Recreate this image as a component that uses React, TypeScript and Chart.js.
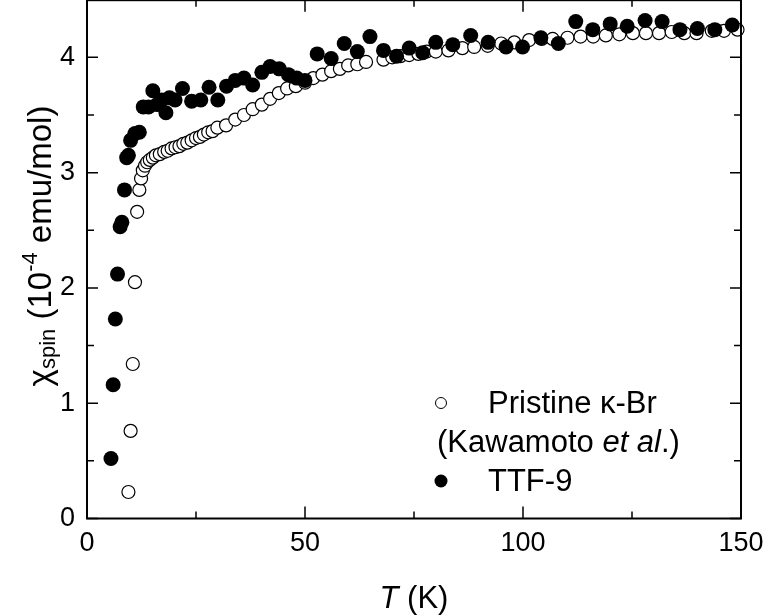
import React, { useEffect, useRef } from "react";
import { Chart, registerables } from "chart.js";

Chart.register(...registerables);

const pristineT = [9.5, 10.0, 10.5, 11.0, 11.5, 12.0, 12.4, 12.8, 13.3, 13.8, 14.4, 15.1, 15.8, 16.7, 17.7, 18.5, 19.4, 20.3, 21.2, 22.1, 23.0, 24.0, 25.0, 25.9, 26.8, 27.8, 28.8, 29.9, 31.9, 34.0, 36.0, 38.0, 40.1, 42.0, 44.0, 45.9, 47.9, 50.0, 51.9, 54.0, 56.0, 58.0, 59.9, 62.0, 64.0, 68.0, 70.0, 71.9, 73.9, 76.0, 77.9, 80.0, 82.9, 86.1, 88.8, 91.9, 95.0, 98.0, 101.4, 104.3, 106.8, 110.2, 113.2, 116.1, 119.0, 122.1, 125.2, 128.2, 131.2, 134.1, 137.0, 139.8, 143.3, 146.1, 149.2];
const pristineChi = [0.23, 0.76, 1.34, 2.05, 2.66, 2.85, 2.95, 3.02, 3.06, 3.09, 3.11, 3.13, 3.15, 3.16, 3.18, 3.19, 3.21, 3.22, 3.23, 3.25, 3.26, 3.28, 3.30, 3.31, 3.33, 3.35, 3.36, 3.39, 3.41, 3.46, 3.50, 3.55, 3.59, 3.64, 3.69, 3.73, 3.75, 3.78, 3.82, 3.85, 3.88, 3.90, 3.93, 3.94, 3.96, 3.98, 4.00, 4.01, 4.02, 4.03, 4.05, 4.05, 4.06, 4.08, 4.09, 4.10, 4.12, 4.13, 4.15, 4.16, 4.16, 4.17, 4.18, 4.18, 4.19, 4.20, 4.21, 4.21, 4.21, 4.22, 4.21, 4.21, 4.23, 4.23, 4.24];

const ttfT = [5.5, 6.0, 6.5, 7.0, 7.6, 8.0, 8.6, 9.1, 9.5, 10.0, 11.0, 12.0, 12.9, 14.1, 15.1, 16.1, 17.1, 18.1, 18.9, 20.2, 21.9, 24.0, 26.1, 28.0, 30.0, 32.0, 34.0, 36.0, 38.0, 40.1, 42.0, 44.1, 46.2, 48.1, 50.0, 52.8, 56.0, 59.0, 62.0, 64.9, 68.0, 71.0, 73.9, 77.0, 80.0, 83.9, 88.0, 92.0, 96.1, 99.9, 104.1, 108.1, 112.1, 116.0, 120.0, 123.9, 128.0, 131.9, 136.0, 140.0, 144.0, 148.0];
const ttfChi = [0.52, 1.16, 1.73, 2.12, 2.53, 2.57, 2.85, 3.13, 3.15, 3.28, 3.34, 3.35, 3.57, 3.57, 3.71, 3.59, 3.63, 3.52, 3.65, 3.63, 3.73, 3.62, 3.63, 3.74, 3.63, 3.75, 3.80, 3.82, 3.76, 3.87, 3.92, 3.90, 3.85, 3.82, 3.80, 4.03, 3.99, 4.12, 4.05, 4.18, 4.06, 4.01, 4.08, 4.04, 4.13, 4.11, 4.19, 4.13, 4.09, 4.09, 4.17, 4.12, 4.31, 4.24, 4.29, 4.27, 4.32, 4.31, 4.24, 4.25, 4.24, 4.28];

const xMajorTicks = [0, 50, 100, 150];
const xMinorTicks = [25, 75, 125];
const yMajorTicks = [0, 1, 2, 3, 4];
const yMinorTicks = [0.5, 1.5, 2.5, 3.5];

const FONT = "'Liberation Sans', Arial, sans-serif";
// canvas is shifted up by OFF px so the plot frame can reach the top edge
const OFF = 8;
const CANVAS_H = 615 + OFF;

const framePlugin = {
  id: "frame",
  afterDatasetsDraw(chart: any) {
    const { ctx, chartArea: a, scales } = chart;
    const xs = scales.x;
    const ys = scales.y;
    ctx.save();
    ctx.strokeStyle = "#000";
    ctx.lineWidth = 2;
    ctx.strokeRect(a.left, a.top + 0.5, a.right - a.left, a.bottom - a.top - 0.5);
    ctx.lineWidth = 1.5;
    const tick = (vals: number[], len: number, isX: boolean) => {
      vals.forEach((v) => {
        ctx.beginPath();
        if (isX) {
          const px = xs.getPixelForValue(v);
          ctx.moveTo(px, a.bottom);
          ctx.lineTo(px, a.bottom - len);
          ctx.moveTo(px, a.top);
          ctx.lineTo(px, a.top + len);
        } else {
          const py = ys.getPixelForValue(v);
          ctx.moveTo(a.left, py);
          ctx.lineTo(a.left + len, py);
          ctx.moveTo(a.right, py);
          ctx.lineTo(a.right - len, py);
        }
        ctx.stroke();
      });
    };
    tick(xMajorTicks, 12, true);
    tick(xMinorTicks, 7, true);
    tick(yMajorTicks, 11, false);
    tick(yMinorTicks, 7, false);
    ctx.restore();
  },
  afterDraw(chart: any) {
    const { ctx, chartArea: a } = chart;
    ctx.save();
    ctx.translate(0, OFF);
    ctx.fillStyle = "#000";
    ctx.textBaseline = "alphabetic";
    // X title
    const xt = `31px ${FONT}`;
    const xtI = `italic 31px ${FONT}`;
    ctx.font = xtI;
    const wT = ctx.measureText("T").width;
    ctx.font = xt;
    const wK = ctx.measureText(" (K)").width;
    const cx = (a.left + a.right) / 2;
    const x0 = cx - (wT + wK) / 2;
    ctx.font = xtI;
    ctx.fillText("T", x0, 608);
    ctx.font = xt;
    ctx.fillText(" (K)", x0 + wT, 608);

    // Y title (rotated)
    const big = `33px ${FONT}`;
    const small = `22px ${FONT}`;
    const parts = [
      { t: "\u03C7", f: big, dy: 0 },
      { t: "spin", f: small, dy: 4 },
      { t: " (10", f: big, dy: 0 },
      { t: "-4", f: small, dy: -14 },
      { t: " emu/mol)", f: big, dy: 0 },
    ];
    let total = 0;
    const widths = parts.map((p) => {
      ctx.font = p.f;
      const w = ctx.measureText(p.t).width;
      total += w;
      return w;
    });
    ctx.save();
    ctx.translate(51, 246);
    ctx.rotate(-Math.PI / 2);
    let px = -total / 2;
    parts.forEach((p, i) => {
      ctx.font = p.f;
      ctx.fillText(p.t, px, p.dy);
      px += widths[i];
    });
    ctx.restore();

    // Legend
    const lf = `31px ${FONT}`;
    const lfi = `italic 31px ${FONT}`;
    ctx.textBaseline = "middle";
    ctx.lineWidth = 1;
    ctx.strokeStyle = "#000";
    ctx.beginPath();
    ctx.arc(441, 403, 5.5, 0, Math.PI * 2);
    ctx.fillStyle = "#fff";
    ctx.fill();
    ctx.stroke();
    ctx.fillStyle = "#000";
    ctx.font = lf;
    ctx.fillText("Pristine \u03BA-Br", 488, 404);
    let lx = 437;
    const seg = [
      { t: "(Kawamoto ", f: lf },
      { t: "et al", f: lfi },
      { t: ".)", f: lf },
    ];
    seg.forEach((s) => {
      ctx.font = s.f;
      ctx.fillText(s.t, lx, 443);
      lx += ctx.measureText(s.t).width;
    });
    ctx.beginPath();
    ctx.arc(441, 481, 6.5, 0, Math.PI * 2);
    ctx.fill();
    ctx.font = lf;
    ctx.fillText("TTF-9", 488, 482);
    ctx.restore();
  },
};

export default function App() {
  const ref = useRef<HTMLCanvasElement | null>(null);
  useEffect(() => {
    if (!ref.current) return;
    const chart = new Chart(ref.current, {
      type: "scatter",
      data: {
        datasets: [
          {
            label: "TTF-9",
            data: ttfT.map((t, i) => ({ x: t, y: ttfChi[i] })),
            backgroundColor: "#000",
            borderColor: "#000",
            borderWidth: 0,
            pointRadius: 7.5,
            order: 0,
            clip: false as any,
          },
          {
            label: "Pristine",
            data: pristineT.map((t, i) => ({ x: t, y: pristineChi[i] })),
            backgroundColor: "#fff",
            borderColor: "#000",
            borderWidth: 1.2,
            pointRadius: 6.5,
            order: 1,
            clip: false as any,
          },
        ],
      },
      options: {
        animation: false,
        responsive: false,
        events: [],
        layout: { padding: { left: 0, top: 0, right: 26, bottom: 0 } },
        plugins: { legend: { display: false }, tooltip: { enabled: false } },
        scales: {
          x: {
            type: "linear",
            min: 0,
            max: 150,
            grid: { display: false, drawTicks: false },
            border: { display: false },
            ticks: {
              color: "#000",
              font: { size: 27, family: FONT },
              padding: 9,
              maxRotation: 0,
              autoSkip: false,
            },
            afterBuildTicks: (s: any) => {
              s.ticks = xMajorTicks.map((v) => ({ value: v }));
            },
            afterFit: (s: any) => {
              s.height = 96.5;
              s.paddingLeft = 0;
              s.paddingRight = 0;
            },
          },
          y: {
            type: "linear",
            min: 0,
            max: 4.5,
            grid: { display: false, drawTicks: false },
            border: { display: false },
            ticks: {
              color: "#000",
              font: { size: 27, family: FONT },
              padding: 12,
              autoSkip: false,
            },
            afterBuildTicks: (s: any) => {
              s.ticks = yMajorTicks.map((v) => ({ value: v }));
            },
            afterFit: (s: any) => {
              s.width = 87;
              s.paddingTop = 0;
              s.paddingBottom = 0;
            },
          },
        },
      },
      plugins: [framePlugin],
    });
    return () => chart.destroy();
  }, []);
  return (
    <div style={{ position: "fixed", left: 0, top: 0, width: 767, height: 615, overflow: "hidden", background: "#fff" }}>
      <canvas
        ref={ref}
        width={767}
        height={CANVAS_H}
        style={{ width: 767, height: CANVAS_H, display: "block", marginTop: -OFF }}
      />
    </div>
  );
}
